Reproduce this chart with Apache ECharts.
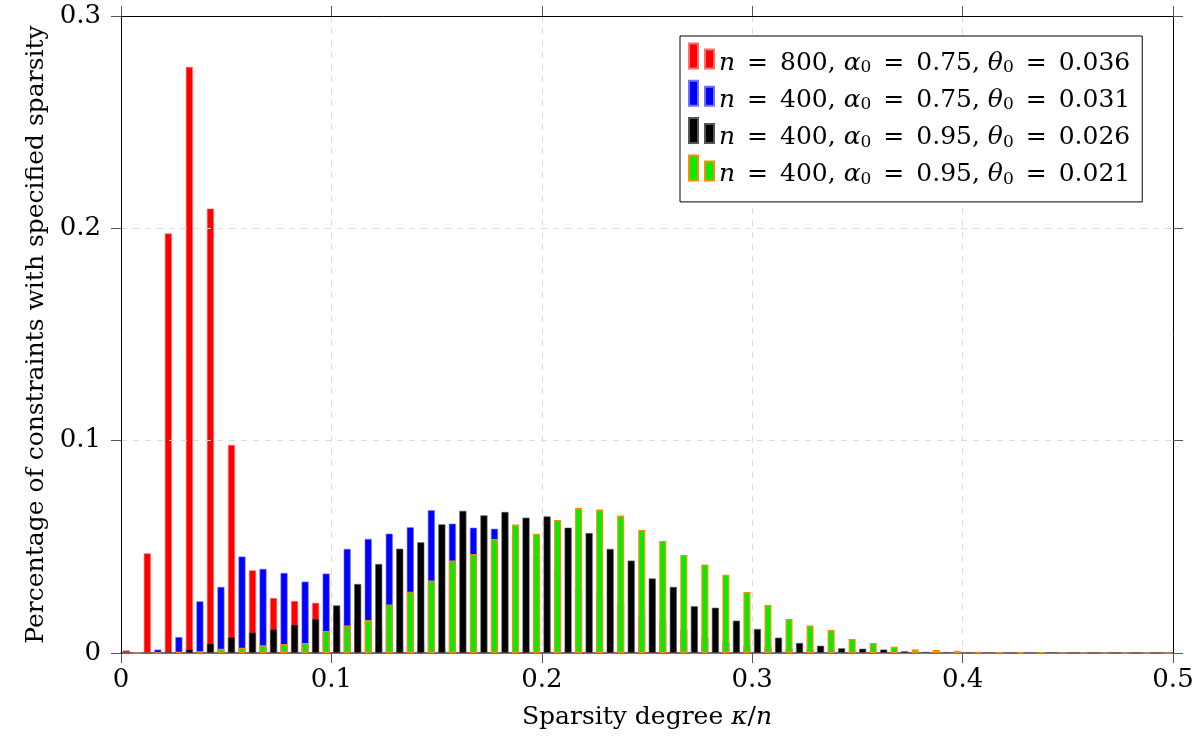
<!DOCTYPE html>
<html>
<head>
<meta charset="utf-8">
<script src="https://cdn.jsdelivr.net/npm/echarts@6/dist/echarts.min.js"></script>
<style>
html,body{margin:0;padding:0;background:#fff;}
#chart{width:1201px;height:740px;}
</style>
</head>
<body>
<div id="chart"></div>
<script>
// ---- Data ----
// Bin centres: set A (red / black) and set B (blue / green), 50 bins each, width 0.01
const binCount = 50;
const binsA = Array.from({length: binCount}, (_, k) => +(0.0025 + k * 0.01).toFixed(4));
const binsB = Array.from({length: binCount}, (_, k) => +(0.0075 + k * 0.01).toFixed(4));

// n = 800, alpha0 = 0.75, theta0 = 0.036  (red, bins A)
const redVals = [0.0012, 0.0469, 0.1976, 0.2760, 0.2093, 0.0980, 0.0389, 0.0259, 0.0245, 0.0236,
                 0.0190, 0.0157, 0.0120, 0.0060, 0.0050, 0.0020, 0.0005, 0.0003, 0.0002, 0.0002,
                 0, 0, 0, 0, 0, 0, 0, 0, 0, 0,
                 0, 0, 0, 0, 0, 0, 0, 0, 0, 0,
                 0, 0, 0, 0, 0, 0, 0, 0, 0, 0];
// n = 400, alpha0 = 0.75, theta0 = 0.031  (blue, bins B)
const blueVals = [0.0003, 0.0016, 0.0075, 0.0243, 0.0311, 0.0454, 0.0396, 0.0377, 0.0336, 0.0374,
                  0.0490, 0.0537, 0.0562, 0.0592, 0.0672, 0.0609, 0.0590, 0.0585, 0.0558, 0.0458,
                  0.0390, 0.0310, 0.0275, 0.0237, 0.0176, 0.0149, 0.0110, 0.0073, 0.0050, 0.0034,
                  0.0030, 0.0020, 0.0016, 0.0010, 0.0006, 0.0004, 0.0003, 0.0002, 0.0001, 0.0001,
                  0, 0, 0, 0, 0, 0, 0, 0, 0, 0];
// n = 400, alpha0 = 0.95, theta0 = 0.026  (black, bins A)
const blackVals = [0, 0, 0.0005, 0.0017, 0.0044, 0.0075, 0.0096, 0.0111, 0.0133, 0.0160,
                   0.0224, 0.0325, 0.0419, 0.0491, 0.0521, 0.0606, 0.0669, 0.0648, 0.0664, 0.0637,
                   0.0643, 0.0590, 0.0565, 0.0490, 0.0435, 0.0351, 0.0311, 0.0220, 0.0213, 0.0152,
                   0.0113, 0.0072, 0.0047, 0.0034, 0.0022, 0.0020, 0.0016, 0.0008, 0.0005, 0.0004,
                   0.0002, 0.0002, 0.0001, 0.0001, 0.0003, 0, 0, 0, 0, 0];
// n = 400, alpha0 = 0.95, theta0 = 0.021  (green, bins B)
const greenVals = [0, 0.0002, 0.0005, 0.0008, 0.0020, 0.0025, 0.0036, 0.0042, 0.0047, 0.0104,
                   0.0129, 0.0155, 0.0228, 0.0289, 0.0341, 0.0436, 0.0466, 0.0537, 0.0605, 0.0562,
                   0.0626, 0.0683, 0.0676, 0.0647, 0.0579, 0.0528, 0.0462, 0.0417, 0.0369, 0.0287,
                   0.0226, 0.0160, 0.0130, 0.0108, 0.0066, 0.0047, 0.0030, 0.0016, 0.0014, 0.0010,
                   0.0005, 0.0003, 0.0003, 0.0003, 0, 0, 0, 0, 0, 0];

// Legend parameters
const nVals = ['800', '400', '400', '400'];
const alphaVals = ['0.75', '0.75', '0.95', '0.95'];
const thetaVals = ['0.036', '0.031', '0.026', '0.021'];
const seriesNames = nVals.map((n, i) => 'n = ' + n + ', α0 = ' + alphaVals[i] + ', θ0 = ' + thetaVals[i]);

// Axis ticks
const xTickStep = 0.1, xMin = 0, xMax = 0.5;
const yTickStep = 0.1, yMin = 0, yMax = 0.3;

// ---- Chart ----
const FONT = 'DejaVu Serif';
const chart = echarts.init(document.getElementById('chart'), null, {renderer: 'canvas'});

function pairs(xs, ys) { return ys.map((v, k) => [xs[k], v]); }

const styles = [
  {color: '#ff0000', borderColor: '#ff7070', borderWidth: 0.6},
  {color: '#0000ff', borderColor: '#7070ff', borderWidth: 0.6},
  {color: '#000000', borderColor: '#555555', borderWidth: 0.6},
  {color: '#00ee00', borderColor: '#ff8c00', borderWidth: 1.2}
];
const dataSets = [pairs(binsA, redVals), pairs(binsB, blueVals), pairs(binsA, blackVals), pairs(binsB, greenVals)];

const series = dataSets.map((d, i) => ({
  type: 'bar',
  name: seriesNames[i],
  data: d,
  xAxisIndex: 0,
  yAxisIndex: 0,
  barWidth: 7,
  barGap: '-100%',
  itemStyle: styles[i],
  emphasis: {disabled: true},
  silent: true
}));

const tickLine = {color: '#555', width: 1};
const dashed = {show: true, showMinLine: false, showMaxLine: false, lineStyle: {color: '#dcdcdc', width: 1, type: [6, 6]}};

chart.setOption({
  animation: false,
  backgroundColor: '#ffffff',
  grid: {left: 121, top: 16, width: 1052, height: 637, containLabel: false},
  xAxis: [
    {
      type: 'value', position: 'bottom', min: xMin, max: xMax, interval: xTickStep,
      axisLine: {show: true, onZero: false, lineStyle: {color: '#444', width: 1.5}},
      axisTick: {show: true, inside: false, length: 10, lineStyle: tickLine},
      axisLabel: {fontFamily: FONT, fontSize: 26, color: '#000', margin: 14},
      splitLine: dashed,
      name: '{t|Sparsity degree }{m|κ}{t|/}{m|n}',
      nameLocation: 'middle', nameGap: 52,
      nameTextStyle: {
        color: '#000', fontFamily: FONT, fontSize: 25,
        rich: {t: {fontFamily: FONT, fontSize: 25, color: '#000'},
               m: {fontFamily: FONT, fontSize: 25, fontStyle: 'italic', color: '#000'}}
      }
    },
    {
      type: 'value', position: 'top', min: xMin, max: xMax, interval: xTickStep, z: 3,
      axisLine: {show: true, onZero: false, lineStyle: {color: '#000', width: 1}},
      axisTick: {show: true, inside: false, length: 10, lineStyle: tickLine},
      axisLabel: {show: false},
      splitLine: {show: false}
    }
  ],
  yAxis: [
    {
      type: 'value', position: 'left', min: yMin, max: yMax, interval: yTickStep, z: 3,
      axisLine: {show: true, onZero: false, lineStyle: {color: '#000', width: 1}},
      axisTick: {show: true, inside: false, length: 10, lineStyle: tickLine},
      axisLabel: {fontFamily: FONT, fontSize: 26, color: '#000', margin: 20},
      splitLine: dashed,
      name: 'Percentage of constraints with specified sparsity',
      nameLocation: 'middle', nameGap: 70, nameRotate: 90,
      nameTextStyle: {color: '#000', fontFamily: FONT, fontSize: 25}
    },
    {
      type: 'value', position: 'right', min: yMin, max: yMax, interval: yTickStep, z: 3,
      axisLine: {show: true, onZero: false, lineStyle: {color: '#000', width: 1}},
      axisTick: {show: true, inside: false, length: 10, lineStyle: tickLine},
      axisLabel: {show: false},
      splitLine: {show: false}
    }
  ],
  legend: {
    show: true,
    data: seriesNames,
    orient: 'vertical',
    left: 680, top: 36,
    itemWidth: 25, itemHeight: 25, itemGap: -2.7,
    icon: 'path://M0,0h9v25h-9z M16,6h9v19h-9z',
    backgroundColor: '#ffffff',
    borderColor: '#000', borderWidth: 1,
    padding: [0, 12, 14, 8],
    selectedMode: false,
    textStyle: {
      color: '#000', fontFamily: FONT, fontSize: 25, lineHeight: 26,
      padding: [14, 0, 0, 0],
      rich: {
        t: {fontFamily: FONT, fontSize: 25, color: '#000'},
        m: {fontFamily: FONT, fontSize: 25, fontStyle: 'italic', color: '#000'},
        eq: {fontFamily: FONT, fontSize: 25, color: '#000', padding: [0, 12, 0, 12]},
        s: {fontFamily: FONT, fontSize: 17, color: '#000', lineHeight: 14, verticalAlign: 'bottom'}
      }
    },
    formatter: function (name) {
      const i = seriesNames.indexOf(name);
      return '{m|n}{eq|=}{t|' + nVals[i] + ', }' +
             '{m|α}{s|0}{eq|=}{t|' + alphaVals[i] + ', }' +
             '{m|θ}{s|0}{eq|=}{t|' + thetaVals[i] + '}';
    }
  },
  series: series
});
</script>
</body>
</html>
